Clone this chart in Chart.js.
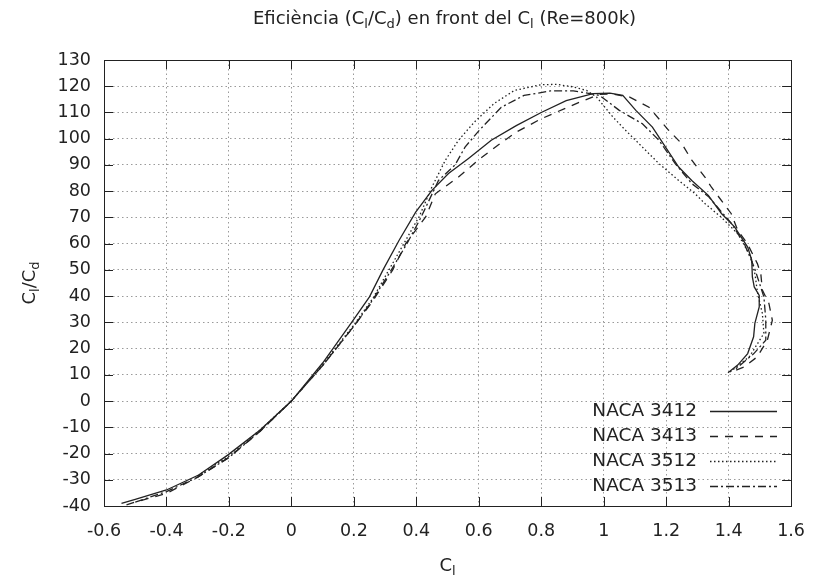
<!DOCTYPE html>
<html>
<head>
<meta charset="utf-8">
<script src="https://cdn.jsdelivr.net/npm/chart.js@4"></script>
<style>
  html, body { margin: 0; padding: 0; background: #fff; }
</style>
</head>
<body>
<canvas id="effChart" width="820" height="581"></canvas>
<script>
// Cl (x) and Cl/Cd (y), one pair of arrays per profile
const names = ['NACA 3412', 'NACA 3413', 'NACA 3512', 'NACA 3513'];

const cl3412 = [-0.544, -0.5, -0.4, -0.297, -0.204, -0.1, 0, 0.1, 0.193, 0.25, 0.293, 0.345, 0.398, 0.45, 0.503, 0.566, 0.64, 0.72, 0.8, 0.88, 0.966, 1.02, 1.061, 1.103, 1.156, 1.198, 1.24, 1.282, 1.335, 1.377, 1.419, 1.461, 1.474, 1.476, 1.482, 1.498, 1.498, 1.484, 1.48, 1.461, 1.429, 1.398];
const ld3412 = [-39, -37.5, -33.9, -28.2, -20.6, -11, 0, 14.5, 30, 39.7, 49.9, 61.3, 72, 80.3, 86.7, 92.4, 99.4, 105, 110, 114.5, 117.2, 117.4, 116.5, 110.8, 104.4, 96.8, 89.2, 84.1, 78.4, 71.5, 66.4, 58.7, 53.7, 47.3, 43.5, 40.3, 35.9, 29.6, 24.5, 18.1, 13.7, 10.8];

const cl3413 = [-0.528, -0.5, -0.4, -0.3, -0.2, -0.1, 0, 0.1, 0.2, 0.26, 0.324, 0.366, 0.43, 0.461, 0.535, 0.6, 0.661, 0.72, 0.8, 0.924, 0.987, 1.03, 1.082, 1.145, 1.208, 1.25, 1.282, 1.324, 1.345, 1.408, 1.429, 1.46, 1.492, 1.503, 1.508, 1.529, 1.54, 1.524, 1.492, 1.45, 1.418];
const ld3413 = [-39.6, -38.5, -35.2, -29, -21.5, -11.5, 0, 13.5, 28.5, 38, 49.9, 60, 70.2, 79, 85.4, 92, 97.5, 102.5, 107.6, 114, 116.9, 117, 115.9, 112, 103.2, 98.1, 91.8, 85.4, 81.5, 71.5, 65.1, 60, 52.4, 48.6, 42.3, 37.2, 30.8, 23.2, 16.9, 13, 11.5];

const cl3512 = [-0.3, -0.2, -0.1, 0, 0.1, 0.2, 0.26, 0.31, 0.36, 0.41, 0.45, 0.493, 0.535, 0.587, 0.65, 0.714, 0.8, 0.85, 0.9, 0.945, 0.977, 1.03, 1.07, 1.124, 1.177, 1.24, 1.292, 1.324, 1.377, 1.429, 1.471, 1.485, 1.492, 1.508, 1.513, 1.467, 1.405];
const ld3512 = [-28.5, -21, -11, 0, 14, 29, 39, 49.5, 60, 70.5, 81.6, 91.8, 99.4, 106.5, 113.5, 118.4, 120.6, 120.7, 119.8, 118.4, 115.9, 108.2, 103.2, 96.8, 90.5, 84.1, 79.1, 75.3, 70, 63.8, 55, 48, 41.6, 33.4, 25.8, 17, 11.1];

const cl3513 = [-0.5, -0.4, -0.3, -0.2, -0.1, 0, 0.1, 0.2, 0.26, 0.32, 0.37, 0.415, 0.471, 0.524, 0.556, 0.6, 0.672, 0.745, 0.83, 0.903, 0.956, 0.987, 1.05, 1.124, 1.177, 1.229, 1.282, 1.335, 1.409, 1.45, 1.482, 1.513, 1.519, 1.519, 1.48, 1.418];
const ld3513 = [-38.5, -34.5, -29, -21.5, -11.5, 0, 13.5, 28.5, 38.5, 50, 60, 70, 84.1, 90, 96.8, 103, 112, 116.5, 118.2, 118.2, 117.2, 116.5, 110.8, 105.7, 99.4, 90.5, 82.9, 78, 67.7, 60, 51, 39.7, 31, 23.2, 18, 11.8];

const xTicks = [-0.6, -0.4, -0.2, 0, 0.2, 0.4, 0.6, 0.8, 1, 1.2, 1.4, 1.6];
const yTicks = [-40, -30, -20, -10, 0, 10, 20, 30, 40, 50, 60, 70, 80, 90, 100, 110, 120, 130];

const FONT = 'DejaVu Sans';
const INK = '#222';

function pts(xs, ys) {
  return xs.map((x, i) => ({ x: x, y: ys[i] }));
}

function curve(label, xs, ys, dash) {
  return {
    label: label,
    data: pts(xs, ys),
    showLine: true,
    borderColor: INK,
    borderWidth: 1.3,
    borderDash: dash,
    pointRadius: 0,
    tension: 0
  };
}

// text with subscripts: parts = [[text, isSub], ...]
function richWidth(ctx, parts, size) {
  let w = 0;
  parts.forEach(p => {
    ctx.font = (p[1] ? Math.round(size * 0.72) : size) + 'px "' + FONT + '"';
    w += ctx.measureText(p[0]).width;
  });
  return w;
}

function drawRich(ctx, parts, cx, cy, size) {
  let x = cx - richWidth(ctx, parts, size) / 2;
  ctx.textAlign = 'left';
  ctx.textBaseline = 'middle';
  ctx.fillStyle = INK;
  parts.forEach(p => {
    const s = p[1] ? Math.round(size * 0.72) : size;
    ctx.font = s + 'px "' + FONT + '"';
    ctx.fillText(p[0], x, p[1] ? cy + size * 0.3 : cy);
    x += ctx.measureText(p[0]).width;
  });
}

const titleParts = [['Eficiència (C', 0], ['l', 1], ['/C', 0], ['d', 1], [') en front del C', 0], ['l', 1], [' (Re=800k)', 0]];
const yTitleParts = [['C', 0], ['l', 1], ['/C', 0], ['d', 1]];
const xTitleParts = [['C', 0], ['l', 1]];

const gnuplotLook = {
  id: 'gnuplotLook',
  afterDatasetsDraw(chart) {
    const ctx = chart.ctx;
    const a = chart.chartArea;
    const xs = chart.scales.x, ys = chart.scales.y;
    ctx.save();
    // frame + inward ticks
    ctx.strokeStyle = INK;
    ctx.lineWidth = 1;
    ctx.setLineDash([]);
    ctx.strokeRect(Math.round(a.left) + 0.5, Math.round(a.top) + 0.5, Math.round(a.right - a.left), Math.round(a.bottom - a.top));
    ctx.beginPath();
    xs.ticks.forEach(t => {
      const px = Math.round(xs.getPixelForValue(t.value)) + 0.5;
      ctx.moveTo(px, a.bottom); ctx.lineTo(px, a.bottom - 9);
      ctx.moveTo(px, a.top); ctx.lineTo(px, a.top + 9);
    });
    ys.ticks.forEach(t => {
      const py = Math.round(ys.getPixelForValue(t.value)) + 0.5;
      ctx.moveTo(a.left, py); ctx.lineTo(a.left + 9, py);
      ctx.moveTo(a.right, py); ctx.lineTo(a.right - 9, py);
    });
    ctx.stroke();

    // key, bottom right inside the plot
    chart.data.datasets.forEach((ds, i) => {
      const y = 411 + i * 25;
      ctx.font = '18.5px "' + FONT + '"';
      ctx.fillStyle = INK;
      ctx.textAlign = 'right';
      ctx.textBaseline = 'middle';
      ctx.fillText(ds.label, 697, y);
      ctx.beginPath();
      ctx.setLineDash(ds.borderDash || []);
      ctx.lineWidth = ds.borderWidth;
      ctx.moveTo(710, y + 0.5);
      ctx.lineTo(777, y + 0.5);
      ctx.stroke();
    });
    ctx.setLineDash([]);

    // titles with subscripts
    const cx = (a.left + a.right) / 2;
    drawRich(ctx, titleParts, cx - 3, 19, 18);
    drawRich(ctx, xTitleParts, cx, 566, 18);
    ctx.translate(30, (a.top + a.bottom) / 2);
    ctx.rotate(-Math.PI / 2);
    drawRich(ctx, yTitleParts, 0, 0, 18);
    ctx.restore();
  }
};

new Chart(document.getElementById('effChart').getContext('2d'), {
  type: 'scatter',
  data: {
    datasets: [
      curve(names[0], cl3412, ld3412, []),
      curve(names[1], cl3413, ld3413, [8, 7]),
      curve(names[2], cl3512, ld3512, [1.5, 2.5]),
      curve(names[3], cl3513, ld3513, [8, 3, 2, 3])
    ]
  },
  plugins: [gnuplotLook],
  options: {
    responsive: false,
    animation: false,
    layout: { padding: { top: 60, right: 19, bottom: 0, left: 0 } },
    plugins: {
      legend: { display: false },
      title: { display: false },
      tooltip: { enabled: false }
    },
    scales: {
      x: {
        type: 'linear',
        min: -0.6,
        max: 1.6,
        afterBuildTicks: s => { s.ticks = xTicks.map(v => ({ value: v })); },
        afterFit: s => { s.height = 75; },
        ticks: {
          font: { family: FONT, size: 17.5 },
          color: INK,
          padding: 15,
          maxRotation: 0,
          callback: v => String(v)
        },
        grid: { color: '#9a9a9a', drawTicks: false },
        border: { display: false, dash: [1.5, 3] }
      },
      y: {
        type: 'linear',
        min: -40,
        max: 130,
        afterBuildTicks: s => { s.ticks = yTicks.map(v => ({ value: v })); },
        afterFit: s => { s.width = 104; },
        ticks: {
          font: { family: FONT, size: 17.5 },
          color: INK,
          padding: 13,
          callback: v => String(v)
        },
        grid: { color: '#9a9a9a', drawTicks: false },
        border: { display: false, dash: [1.5, 3] }
      }
    }
  }
});
</script>
</body>
</html>
